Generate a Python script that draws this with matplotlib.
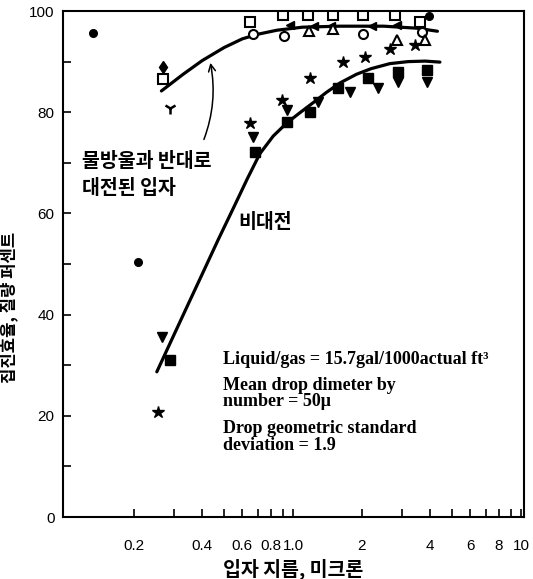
import matplotlib.pyplot as plt
import numpy as np

plt.rcParams['font.family'] = ['Liberation Sans', 'DejaVu Sans']
plt.rcParams['axes.unicode_minus'] = False

# 곡선 (대전 입자 / 비대전)
charged_x = [0.265, 0.33, 0.4, 0.5, 0.6, 0.7, 0.85, 1.1, 1.6, 2.5, 3.5, 4.3]
charged_y = [84.2, 87.5, 90.2, 92.8, 94.5, 95.4, 96.2, 96.8, 97.0, 97.0, 96.6, 96.0]
neutral_x = [0.253, 0.3, 0.35, 0.4, 0.47, 0.55, 0.63, 0.716, 0.82, 0.941, 1.08,
             1.22, 1.4, 1.61, 1.9, 2.2, 2.66, 3.2, 3.8, 4.41]
neutral_y = [28.7, 35.9, 42.4, 48.0, 54.8, 61.2, 66.8, 71.8, 75.3, 77.9, 80.0,
             81.8, 83.9, 85.8, 87.5, 88.6, 89.6, 90.0, 90.1, 89.9]

# 측정점
star_x = [0.256, 0.648, 0.895, 1.19, 1.66, 2.07, 2.66, 3.43]
star_y = [20.8, 77.9, 82.4, 86.8, 89.9, 90.9, 92.5, 93.3]
tri_down_x = [0.267, 0.667, 0.941, 1.29, 1.78, 2.36, 2.89, 3.87]
tri_down_y = [35.6, 75.1, 80.4, 82.0, 84.0, 84.8, 86.0, 86.0]
square_x = [0.289, 0.681, 0.941, 1.19, 1.58, 2.13, 2.89, 3.87]
square_y = [31.0, 72.1, 78.1, 80.0, 84.8, 86.8, 88.0, 88.3]
dot_x = [0.133, 0.21, 3.95]
dot_y = [95.7, 50.4, 99.0]
open_sq_x = [0.27, 0.645, 0.90, 1.16, 1.50, 2.03, 2.80, 3.62]
open_sq_y = [86.6, 97.8, 99.2, 99.2, 99.2, 99.2, 99.2, 97.8]
open_circ_x = [0.67, 0.91, 2.03, 3.68]
open_circ_y = [95.5, 95.0, 95.5, 95.8]
open_tri_x = [1.17, 1.50, 2.86, 3.8]
open_tri_y = [96.0, 96.4, 94.2, 94.3]
left_tri_x = [0.97, 1.24, 1.47, 2.22, 2.86]
left_tri_y = [97.3, 97.0, 97.0, 97.0, 97.2]
diamond_x = [0.27]
diamond_y = [89.0]
fork_x = [0.289]
fork_y = [80.8]

x_ticks = [0.2, 0.4, 0.6, 0.8, 1.0, 2, 4, 6, 8, 10]
x_labels = ['0.2', '0.4', '0.6', '0.8', '1.0', '2', '4', '6', '8', '10']
x_minor = [0.3, 0.5, 0.7, 0.9, 3, 5, 7, 9]
y_ticks = [0, 20, 40, 60, 80, 100]
y_minor = [10, 30, 50, 70, 90]

fig = plt.figure(figsize=(5.33, 5.79), dpi=100)
ax = fig.add_axes([0.118, 0.107, 0.865, 0.874])
ax.set_xscale('log')
ax.set_xlim(0.098, 10.3)
ax.set_ylim(0, 100)

ax.plot(charged_x, charged_y, color='black', lw=2.3, solid_capstyle='round')
ax.plot(neutral_x, neutral_y, color='black', lw=2.3, solid_capstyle='round')

k = dict(color='black', linestyle='none')
ax.plot(star_x, star_y, marker='*', ms=9, **k)
ax.plot(tri_down_x, tri_down_y, marker='v', ms=7, **k)
ax.plot(square_x, square_y, marker='s', ms=6.5, **k)
ax.plot(dot_x, dot_y, marker='o', ms=5.5, **k)
ax.plot(diamond_x, diamond_y, marker='d', ms=6, **k)
ax.plot(left_tri_x, left_tri_y, marker='<', ms=6, **k)
ax.plot(fork_x, fork_y, marker='1', ms=9, mew=1.8, **k)
ax.plot(open_sq_x, open_sq_y, marker='s', ms=7, mfc='white', mew=1.5, **k)
ax.plot(open_circ_x, open_circ_y, marker='o', ms=6.5, mfc='white', mew=1.5, **k)
ax.plot(open_tri_x, open_tri_y, marker='^', ms=7, mfc='white', mew=1.5, **k)

kr = ['Noto Sans CJK KR', 'DejaVu Sans']
ax.text(0.041, 0.702, '물방울과 반대로', transform=ax.transAxes, family=kr,
        fontsize=14, fontweight='bold', va='center')
ax.text(0.041, 0.650, '대전된 입자', transform=ax.transAxes, family=kr,
        fontsize=14, fontweight='bold', va='center')
ax.text(0.380, 0.583, '비대전', transform=ax.transAxes, family=kr,
        fontsize=14, fontweight='bold', va='center')

ax.annotate('', xy=(0.432, 90.3), xytext=(0.403, 74.1),
            arrowprops=dict(arrowstyle='->,head_length=0.5,head_width=0.25',
                            color='black', lw=1.1,
                            connectionstyle='arc3,rad=0.15'))

# 실험 조건
serif = dict(transform=ax.transAxes, family='Liberation Serif', fontsize=13,
             fontweight='bold', ha='left')
ax.text(0.347, 0.302, 'Liquid/gas = 15.7gal/1000actual ft\u00b3',
        va='baseline', **serif)
ax.text(0.347, 0.245, 'Mean drop dimeter by\nnumber = 50\u03bc',
        va='center', linespacing=0.92, **serif)
ax.text(0.347, 0.158, 'Drop geometric standard\ndeviation = 1.9',
        va='center', linespacing=0.95, **serif)

ax.set_xticks(x_ticks)
ax.set_xticklabels(x_labels)
ax.set_xticks(x_minor, minor=True)
ax.set_yticks(y_ticks)
ax.set_yticks(y_minor, minor=True)
ax.tick_params(which='both', direction='in', length=6, width=1.2)
ax.tick_params(axis='x', which='major', pad=16, labelsize=11)
ax.tick_params(axis='x', which='minor', labelbottom=False)
ax.tick_params(axis='y', pad=6, labelsize=11)
for sp in ax.spines.values():
    sp.set_linewidth(1.5)

ax.set_xlabel('입자 지름, 미크론', family=kr, fontsize=14, fontweight='bold',
              labelpad=4)
ax.set_ylabel('집진효율, 질량 퍼센트', family=kr, fontsize=12, fontweight='bold')
ax.yaxis.set_label_coords(-0.098, 0.415)

fig.savefig('out.png', dpi=100)
